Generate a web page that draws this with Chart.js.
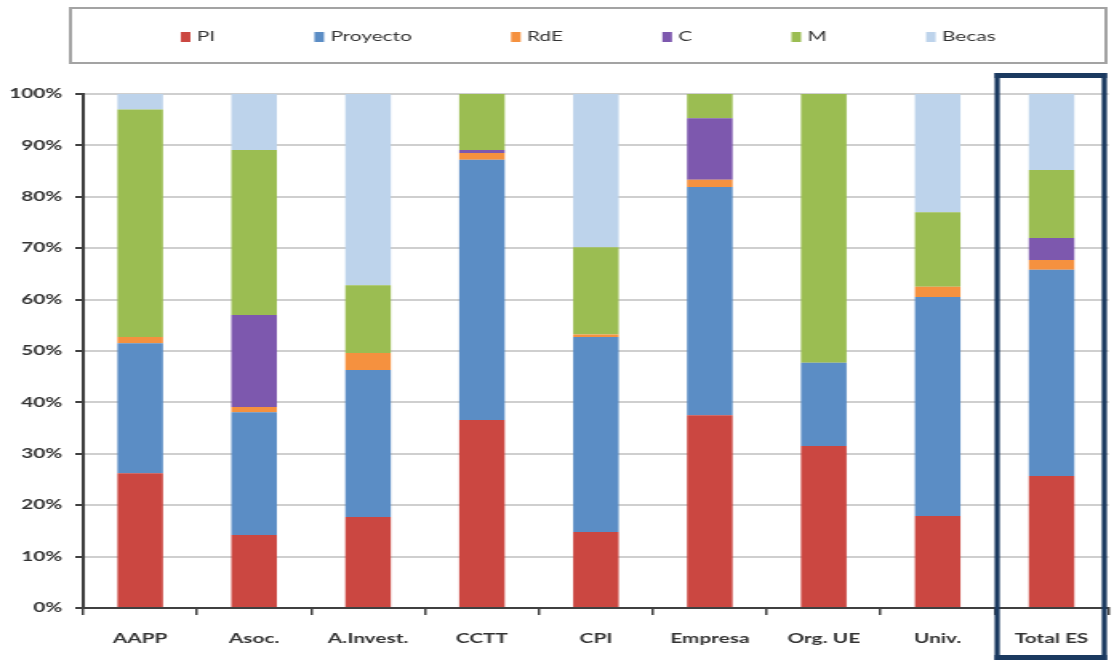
<!DOCTYPE html>
<html>
<head>
<meta charset="utf-8">
<script src="https://cdn.jsdelivr.net/npm/chart.js@4"></script>
<style>
  html, body { margin: 0; padding: 0; background: #fff; overflow: hidden; }
</style>
</head>
<body>
<!-- the source picture is stretched sideways, so the canvas is drawn narrow and shown wide -->
<canvas id="chart" width="696" height="663" style="width:1114px;height:663px"></canvas>
<script>
// ===== Data =====
const categories = ['AAPP', 'Asoc.', 'A.Invest.', 'CCTT', 'CPI', 'Empresa', 'Org. UE', 'Univ.', 'Total ES'];
const pi       = [26.2, 14.2, 17.7, 36.6, 14.8, 37.5, 31.5, 17.9, 25.7];
const proyecto = [25.3, 23.9, 28.6, 50.6, 37.9, 44.4, 16.2, 42.6, 40.1];
const rde      = [1.2, 1.0, 3.3, 1.3, 0.5, 1.4, 0, 2.0, 1.9];
const c        = [0, 17.9, 0, 0.6, 0, 12.0, 0, 0, 4.3];
const m        = [44.3, 32.1, 13.2, 10.9, 17.0, 4.7, 52.3, 14.5, 13.2];
const becas    = [3.0, 10.9, 37.2, 0, 29.8, 0, 0, 23.0, 14.8];
const yTicks   = [0, 10, 20, 30, 40, 50, 60, 70, 80, 90, 100];

const seriesNames = ['PI', 'Proyecto', 'RdE', 'C', 'M', 'Becas'];
const seriesData = [pi, proyecto, rde, c, m, becas];
const palette = ['#cb4741', '#5b8dc5', '#f5913f', '#7d58ae', '#9bbd52', '#bdd3eb'];

// ===== Plugins =====
const boxLegend = {
  id: 'boxLegend',
  afterDraw(chart) {
    const ctx = chart.ctx;
    ctx.save();
    ctx.strokeStyle = '#a3a3a3';
    ctx.lineWidth = 2;
    ctx.strokeRect(44, 8, 647, 55);

    ctx.font = '13px Lato';
    ctx.textBaseline = 'middle';
    const items = chart.data.datasets.map(ds => ({
      label: ds.label,
      color: ds.backgroundColor,
      w: 10 + ctx.measureText(ds.label).width
    }));
    const gap = 62;
    const total = items.reduce((s, it) => s + it.w, 0) + gap * (items.length - 1);
    let x = 44 + (647 - total) / 2;
    const y = 37;
    items.forEach(it => {
      ctx.fillStyle = it.color;
      ctx.fillRect(x, y - 5, 6, 10);
      ctx.fillStyle = '#333333';
      ctx.fillText(it.label, x + 10, y);
      x += it.w + gap;
    });
    ctx.restore();
  }
};

const totalBox = {
  id: 'totalBox',
  afterDraw(chart) {
    const ctx = chart.ctx;
    const xs = chart.scales.x;
    const step = (xs.right - xs.left) / categories.length;
    const left = xs.getPixelForValue(categories.length - 1) - step / 2;
    const right = xs.right - 1;
    const top = 73, bottom = 660;
    ctx.save();
    ctx.fillStyle = '#1b3a60';
    ctx.fillRect(left, top, 3.2, bottom - top);
    ctx.fillRect(right - 3.2, top, 3.2, bottom - top);
    ctx.fillRect(left, top, right - left, 5);
    ctx.fillRect(left, bottom - 5, right - left, 5);
    ctx.restore();
  }
};

// ===== Chart =====
Chart.defaults.font.family = 'Lato';
Chart.defaults.color = '#333333';

new Chart(document.getElementById('chart'), {
  type: 'bar',
  data: {
    labels: categories,
    datasets: seriesNames.map((name, i) => ({
      label: name,
      data: seriesData[i],
      backgroundColor: palette[i],
      borderWidth: 0,
      categoryPercentage: 1,
      barPercentage: 0.4
    }))
  },
  options: {
    responsive: false,
    animation: false,
    devicePixelRatio: 1,
    layout: { padding: { top: 94, left: 0, right: 0, bottom: 0 } },
    plugins: {
      legend: { display: false },
      tooltip: { enabled: false }
    },
    scales: {
      x: {
        stacked: true,
        afterFit(scale) { scale.height = 55; },
        grid: { display: true, drawOnChartArea: false, color: '#404040', lineWidth: 1.5, tickLength: 7 },
        border: { color: '#404040', width: 2 },
        ticks: { font: { size: 13, weight: 'bold' }, padding: 16, maxRotation: 0, autoSkip: false }
      },
      y: {
        stacked: true,
        min: 0,
        max: 100,
        afterFit(scale) { scale.width = 52; },
        afterBuildTicks(scale) { scale.ticks = yTicks.map(v => ({ value: v })); },
        grid: { color: '#cfcfcf', lineWidth: 2, tickColor: '#404040', tickLength: 5, tickWidth: 2 },
        border: { color: '#404040', width: 2 },
        ticks: { font: { size: 13, weight: 'bold' }, padding: 8, callback: v => v + '%' }
      }
    }
  },
  plugins: [boxLegend, totalBox]
});
</script>
</body>
</html>
